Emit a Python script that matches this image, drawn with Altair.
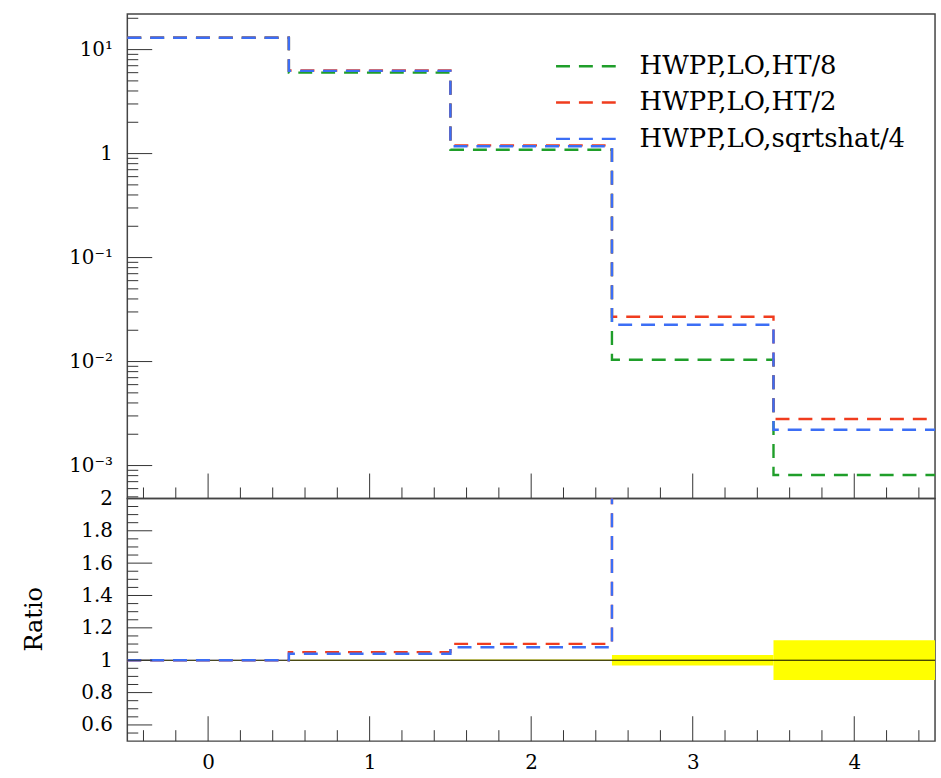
import altair as alt
import pandas as pd

# ---- histogram contents -------------------------------------------------
edges = [-0.5, 0.5, 1.5, 2.5, 3.5, 4.5]

series_names = ["HWPP,LO,HT/8", "HWPP,LO,HT/2", "HWPP,LO,sqrtshat/4"]
series_colors = ["#1f9e2a", "#f03c1e", "#3c6ef5"]

ht8 = [13.0, 6.00, 1.090, 0.0104, 0.00081]
ht2 = [13.0, 6.30, 1.200, 0.0270, 0.00280]
sqrtshat4 = [13.0, 6.24, 1.177, 0.0226, 0.00221]

# relative uncertainty of the reference histogram (HT/8) per bin
ref_rel_err = [0.002, 0.003, 0.004, 0.032, 0.123]

# ---- axis tick positions -------------------------------------------------
x_major = [0, 1, 2, 3, 4]
x_minor = [round(-0.4 + 0.2 * i, 1) for i in range(25)
           if abs(round(-0.4 + 0.2 * i, 1) - round(-0.4 + 0.2 * i)) > 1e-9]

log_major = [1e-3, 1e-2, 1e-1, 1.0, 10.0]
log_minor = [m * 10.0 ** e for e in range(-4, 2) for m in range(2, 10)]
log_domain = [4.83e-4, 22.0]
log_minor = [v for v in log_minor if log_domain[0] < v < log_domain[1]]

ratio_major = [0.6, 0.8, 1.0, 1.2, 1.4, 1.6, 1.8]
ratio_minor = [round(0.55 + 0.05 * i, 2) for i in range(29)]
ratio_minor = [v for v in ratio_minor if all(abs(v - m) > 1e-6 for m in ratio_major)]
ratio_domain = [0.5, 2.0]

FONT = "DejaVu Serif"
W = 812
H_TOP = 487
H_BOT = 244
TICK_COLOR = "#333333"

# ---- tables --------------------------------------------------------------
values = [ht8, ht2, sqrtshat4]
rows = []
for name, vals in zip(series_names, values):
    for x, v in zip(edges, vals + [vals[-1]]):
        rows.append({"series": name, "x": x, "y": v})
hist_df = pd.DataFrame(rows)

ratio_rows = []
for name, vals in zip(series_names[1:], values[1:]):
    r = [v / ref for v, ref in zip(vals, ht8)]
    for x, v in zip(edges, r + [r[-1]]):
        ratio_rows.append({"series": name, "x": x, "r": v})
ratio_df = pd.DataFrame(ratio_rows)

band_df = pd.DataFrame({
    "lo": edges[:-1],
    "hi": edges[1:],
    "down": [1 - e for e in ref_rel_err],
    "up": [1 + e for e in ref_rel_err],
})

xs = alt.Scale(domain=[edges[0], edges[-1]], nice=False, zero=False)
ys_log = alt.Scale(type="log", domain=log_domain, nice=False)
ys_ratio = alt.Scale(domain=ratio_domain, nice=False, zero=False)

dash = [14, 9]
lw = 2.4

log_labels = (
    "datum.value >= 5 ? '10\u00b9' : datum.value >= 0.5 ? '1' : "
    "datum.value >= 0.05 ? '10\u207b\u00b9' : datum.value >= 0.005 ? '10\u207b\u00b2' : '10\u207b\u00b3'"
)

label_style = dict(
    ticks=False, tickSize=0, domain=False, grid=False, title=None,
    labelFont=FONT, labelFontSize=20, labelColor="black",
)

# axes shared by every layer of a panel
top_y_axis = alt.Axis(values=log_major, labelExpr=log_labels, labelPadding=15, **label_style)
bot_x_axis = alt.Axis(values=x_major, format="d", labelPadding=12, **label_style)
ratio_style = dict(label_style)
ratio_style.pop("title")
bot_y_axis = alt.Axis(
    values=ratio_major + [2.0], format="~g", labelPadding=15,
    title="Ratio", titleFont=FONT, titleFontSize=24, titleFontWeight="normal",
    titleColor="black", titleAngle=270, titleX=-93, titleY=121,
    titleAlign="center", titleBaseline="middle", **ratio_style,
)


def x_ticks(positions, length, y_px, axis):
    return alt.Chart(pd.DataFrame({"t": positions})).mark_rule(
        color=TICK_COLOR, strokeWidth=1
    ).encode(
        x=alt.X("t:Q", scale=xs, axis=axis),
        y=alt.value(y_px),
        y2=alt.value(y_px - length),
    )


def y_ticks(positions, length, scale, axis):
    return alt.Chart(pd.DataFrame({"t": positions})).mark_rule(
        color=TICK_COLOR, strokeWidth=1
    ).encode(
        y=alt.Y("t:Q", scale=scale, axis=axis),
        x=alt.value(0),
        x2=alt.value(length),
    )


# ---- upper panel: distributions on a log scale ---------------------------
# a long horizontal stroke as legend key, sized like the label text
legend_key = "M-2.5,0H2.5"

hist_lines = alt.Chart(hist_df).mark_line(
    interpolate="step-after", strokeDash=dash, strokeWidth=lw
).encode(
    x=alt.X("x:Q", scale=xs, axis=None),
    y=alt.Y("y:Q", scale=ys_log, axis=top_y_axis),
    color=alt.Color(
        "series:N",
        scale=alt.Scale(domain=series_names, range=series_colors),
        legend=alt.Legend(
            title=None, orient="none", legendX=449, legendY=38,
            symbolType=legend_key, symbolSize=676, symbolStrokeWidth=lw,
            symbolDash=dash, symbolFillColor="transparent",
            labelFont=FONT, labelFontSize=26,
            labelColor="black", labelOffset=37, rowPadding=8.5, padding=0,
            labelLimit=400,
        ),
    ),
)

top = alt.layer(
    hist_lines,
    x_ticks(x_major, 25, H_TOP, None),
    x_ticks(x_minor, 11, H_TOP, None),
    y_ticks(log_major, 25, ys_log, top_y_axis),
    y_ticks(log_minor, 11, ys_log, top_y_axis),
).properties(width=W, height=H_TOP)

# ---- lower panel: ratio to HT/8 --------------------------------------------
band = alt.Chart(band_df).mark_rect(color="#ffff00").encode(
    x=alt.X("lo:Q", scale=xs, axis=bot_x_axis),
    x2="hi:Q",
    y=alt.Y("down:Q", scale=ys_ratio, axis=bot_y_axis),
    y2="up:Q",
)

unity = alt.Chart(pd.DataFrame({"r": [1.0]})).mark_rule(
    color="black", strokeWidth=1
).encode(y=alt.Y("r:Q", scale=ys_ratio, axis=bot_y_axis))

ratio_layers = []
for name, col in zip(series_names[1:], series_colors[1:]):
    ratio_layers.append(
        alt.Chart(ratio_df).transform_filter(
            alt.datum.series == name
        ).mark_line(
            interpolate="step-after", strokeDash=dash, strokeWidth=lw,
            color=col, clip=True,
        ).encode(
            x=alt.X("x:Q", scale=xs, axis=bot_x_axis),
            y=alt.Y("r:Q", scale=ys_ratio, axis=bot_y_axis),
        )
    )

bottom = alt.layer(
    band,
    unity,
    *ratio_layers,
    x_ticks(x_major, 25, H_BOT, bot_x_axis),
    x_ticks(x_minor, 11, H_BOT, bot_x_axis),
    y_ticks(ratio_major, 25, ys_ratio, bot_y_axis),
    y_ticks(ratio_minor, 11, ys_ratio, bot_y_axis),
).properties(width=W, height=H_BOT)

chart = alt.vconcat(
    top, bottom, spacing=0, bounds="flush",
    padding={"left": 22, "top": 11, "right": 0, "bottom": 0},
).resolve_scale(
    x="independent", y="independent"
).configure_view(
    stroke="#444444", strokeWidth=1.5
).properties(background="white")

chart.save("out.html", embed_options={"renderer": "svg", "actions": False})
